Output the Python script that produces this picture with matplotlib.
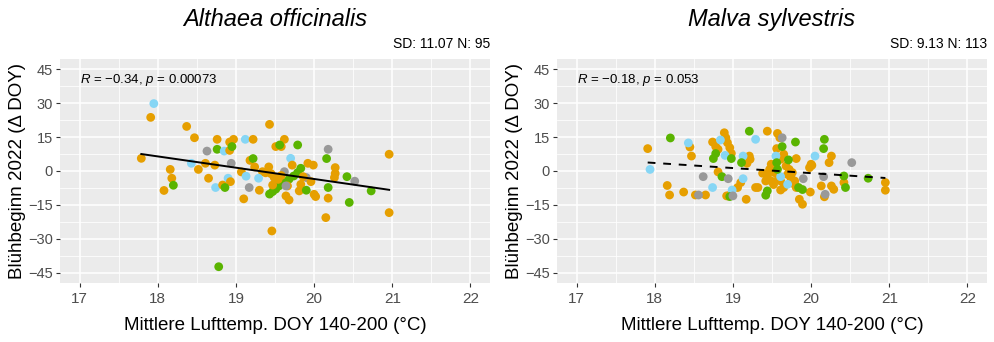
import matplotlib

matplotlib.use("Agg")
import matplotlib.pyplot as plt  # noqa: E402
import numpy as np  # noqa: E402

plt.rcParams["font.family"] = ["Liberation Sans", "DejaVu Sans"]
plt.rcParams["mathtext.fontset"] = "custom"
plt.rcParams["mathtext.it"] = "Liberation Sans:italic"
plt.rcParams["mathtext.rm"] = "Liberation Sans"

# colour groups used by the points
COLORS = {"O": "#E69F00", "B": "#86D6F5", "G": "#5AB400", "Y": "#999999"}

# --- Althaea officinalis ---------------------------------------------------
alt_x = [17.95, 17.91, 18.37, 18.47, 18.76, 18.92, 18.97, 19.12, 19.22, 19.43,
         18.63, 18.76, 18.85, 18.92, 18.95, 17.79, 18.43, 18.61, 18.73, 18.94,
         19.18, 19.22, 19.24, 19.34, 19.42, 18.16, 18.18, 18.20, 18.08, 18.52,
         18.65, 18.90, 18.93, 18.74, 18.83, 18.86, 19.07, 19.13, 19.29, 19.17,
         19.30, 19.10, 19.62, 19.51, 19.58, 19.56, 19.79, 20.18, 20.16, 20.96,
         19.70, 19.72, 19.92, 19.99, 19.62, 20.27, 20.27, 20.26, 20.42, 20.52,
         20.73, 19.90, 19.83, 19.79, 19.74, 19.68, 19.62, 19.55, 19.51, 19.47,
         19.43, 19.49, 19.54, 19.47, 19.66, 19.83, 19.81, 19.96, 20.00, 20.02,
         20.18, 19.64, 19.68, 19.90, 20.18, 19.64, 20.45, 20.96, 20.15, 19.46,
         18.78, 19.45, 19.58, 19.86, 19.38]
alt_y = [29.8, 23.7, 19.7, 14.7, 14.0, 12.8, 14.0, 14.0, 14.0, 20.6,
         8.8, 9.6, 8.8, 9.1, 10.8, 5.6, 3.4, 3.4, 2.6, 3.4,
         4.7, 5.5, 1.8, -0.3, 1.8, 0.7, -3.2, -6.3, -8.6, 0.7,
         -3.2, -3.2, -4.7, -7.3, -6.2, -7.3, -0.4, -2.3, -3.2, -7.3,
         -8.5, -12.3, 14.0, 10.8, 10.8, 11.5, 11.5, 9.6, 5.5, 7.4,
         5.6, 2.6, 3.4, 2.6, -0.3, 1.5, -1.1, -2.9, -2.5, -4.5,
         -8.8, -2.9, 1.2, -0.7, -2.2, -3.6, -5.1, -6.6, -8.0, -9.1,
         -10.2, -2.9, -3.7, -6.2, -6.6, -5.9, -8.8, -4.7, -10.3, -11.3,
         -12.0, -11.0, -12.8, -8.5, -7.3, -6.6, -13.9, -18.4, -20.6, -26.5,
         -42.3, -1.2, -2.0, -2.5, -0.8]
alt_c = ["B", "O", "O", "O", "O", "O", "O", "B", "O", "O",
         "Y", "G", "B", "O", "G", "O", "B", "O", "O", "Y",
         "O", "G", "O", "O", "O", "O", "O", "G", "O", "O",
         "O", "B", "O", "B", "O", "G", "O", "B", "B", "Y",
         "O", "O", "O", "O", "O", "G", "G", "Y", "G", "O",
         "B", "O", "O", "O", "Y", "O", "O", "O", "G", "Y",
         "G", "Y", "G", "G", "G", "G", "G", "G", "G", "G",
         "G", "O", "O", "O", "O", "O", "O", "O", "O", "O",
         "O", "O", "O", "G", "G", "Y", "G", "O", "O", "O",
         "G", "O", "O", "O", "O"]

# --- Malva sylvestris ------------------------------------------------------
mal_x = [17.91, 18.45, 18.47, 18.16, 18.19, 18.37, 18.52, 18.65,
         18.89, 18.91, 18.93, 18.96, 18.98, 18.74, 18.78, 18.81,
         18.81, 19.21, 19.22, 19.18, 19.10, 19.06, 19.17, 18.94,
         19.44, 19.57, 19.60, 19.56, 19.65, 19.61, 19.81, 20.26, 20.23,
         19.49, 19.47, 19.53, 19.44, 19.49, 19.42, 19.68, 19.72, 19.76,
         19.74, 19.79, 19.65, 19.61, 19.99, 20.00, 19.98, 20.01, 20.13,
         20.26, 20.29, 20.17, 20.42, 19.85, 19.89, 19.32, 19.29, 19.61,
         19.79, 19.81, 20.95, 20.95, 19.52, 19.38, 19.58, 19.70, 18.92,
         17.94, 18.43, 18.84, 18.90, 19.13, 19.29, 19.55, 20.05, 18.74,
         19.13, 18.99, 19.61, 19.70,
         18.20, 18.78, 18.75, 18.98, 19.11, 19.21, 18.86, 18.96, 19.63,
         19.80, 20.17, 20.16, 19.71, 19.56, 19.57, 19.84, 19.89, 20.42,
         20.44, 20.73, 19.44, 19.42,
         18.62, 18.94, 18.56, 19.63, 19.90, 20.16, 20.18, 20.52, 19.00]
mal_y = [9.9, 10.6, 6.6, -6.4, -10.6, -9.3, -10.6, -10.6,
         16.9, 14.7, 12.5, 10.3, 7.8, 12.8, 10.8, 9.6,
         -0.4, 6.6, 5.2, 3.4, -5.1, -7.3, -12.5, -11.0,
         17.6, 16.6, 14.7, 9.9, 7.4, 5.2, 5.5, 6.6, 3.7,
         3.0, 0.7, -0.7, -2.2, -4.4, -4.4, 2.2, 0.7, -0.7,
         -2.9, -4.4, -7.3, -8.4, -9.3, 3.0, 1.5, 2.5, -6.6,
         -6.6, -8.1, -11.4, -5.1, -12.5, -14.7, -7.3, -7.3, -4.4,
         -5.9, -7.3, -5.1, -8.5, -6.0, -1.0, -3.5, -1.5, -11.0,
         0.7, 12.4, 13.7, 6.9, 6.6, 14.0, 6.6, 6.6, -7.3,
         -3.4, -8.4, -2.5, -5.9,
         14.6, 7.7, 5.5, 5.5, 3.7, 17.6, -2.5, -11.3, 10.8,
         12.8, 14.0, 9.9, 4.9, 3.7, 0.7, -7.3, -8.2, -2.2,
         -7.3, -3.2, -8.8, -10.7,
         -2.5, -3.4, -10.6, 14.7, -3.4, -2.5, -10.3, 3.7, -11.0]
mal_c = ["O"] * 69 + ["B"] * 13 + ["G"] * 22 + ["Y"] * 9

TITLES = ["Althaea officinalis", "Malva sylvestris"]
SUBTITLES = ["SD: 11.07 N: 95", "SD: 9.13 N: 113"]
STATS = [r"$R$ = −0.34, $p$ = 0.00073", r"$R$ = −0.18, $p$ = 0.053"]
LINESTYLES = ["-", "--"]
X_TICKS = [17, 18, 19, 20, 21, 22]
Y_TICKS = [-45, -30, -15, 0, 15, 30, 45]
XLABEL = "Mittlere Lufttemp. DOY 140-200 (°C)"
YLABEL = "Blühbeginn 2022 (Δ DOY)"


def _panel(ax, x, y, c, title, subtitle, stat, ls):
    x, y = np.asarray(x), np.asarray(y)
    ax.set_facecolor("#EBEBEB")
    for side in ax.spines.values():
        side.set_visible(False)
    ax.set_xlim(16.75, 22.25)
    ax.set_ylim(-49.5, 49.5)
    ax.set_xticks(X_TICKS)
    ax.set_yticks(Y_TICKS)
    ax.set_xticks(np.arange(17.5, 22, 1.0), minor=True)
    ax.set_yticks(np.arange(-37.5, 40, 15), minor=True)
    ax.grid(which="major", color="white", lw=1.1)
    ax.grid(which="minor", color="white", lw=0.55)
    ax.set_axisbelow(True)
    ax.tick_params(which="major", length=3, width=0.8, color="#333333",
                   labelsize=11, labelcolor="#4D4D4D", pad=3.5)
    ax.tick_params(axis="y", which="major", labelsize=10.5, pad=2)
    ax.tick_params(which="minor", length=0)

    ax.scatter(x, y, s=40, c=[COLORS[k] for k in c], linewidths=0, zorder=3)

    slope, icpt = np.polyfit(x, y, 1)
    xs = np.array([x.min(), x.max()])
    line, = ax.plot(xs, slope * xs + icpt, ls, color="black", lw=1.4, zorder=4)
    if ls == "--":
        line.set_dashes((4, 4))

    ax.text(17.0, 40, stat, fontsize=9.5, va="center", ha="left")
    ax.set_title(title, fontstyle="italic", fontsize=17, pad=24)
    ax.text(1.0, 1.065, subtitle, transform=ax.transAxes, ha="right",
            va="center", fontsize=10)
    ax.set_xlabel(XLABEL, fontsize=13.5, labelpad=8)
    ax.set_ylabel(YLABEL, fontsize=13.5, labelpad=1.5)


fig = plt.figure(figsize=(9.94, 3.42), dpi=100)
ax1 = fig.add_axes([60 / 994, 1 - 283 / 342, 430 / 994, 224 / 342])
ax2 = fig.add_axes([557 / 994, 1 - 283 / 342, 430 / 994, 224 / 342])

_panel(ax1, alt_x, alt_y, alt_c, TITLES[0], SUBTITLES[0], STATS[0], LINESTYLES[0])
_panel(ax2, mal_x, mal_y, mal_c, TITLES[1], SUBTITLES[1], STATS[1], LINESTYLES[1])

fig.savefig("out.png", dpi=100)
